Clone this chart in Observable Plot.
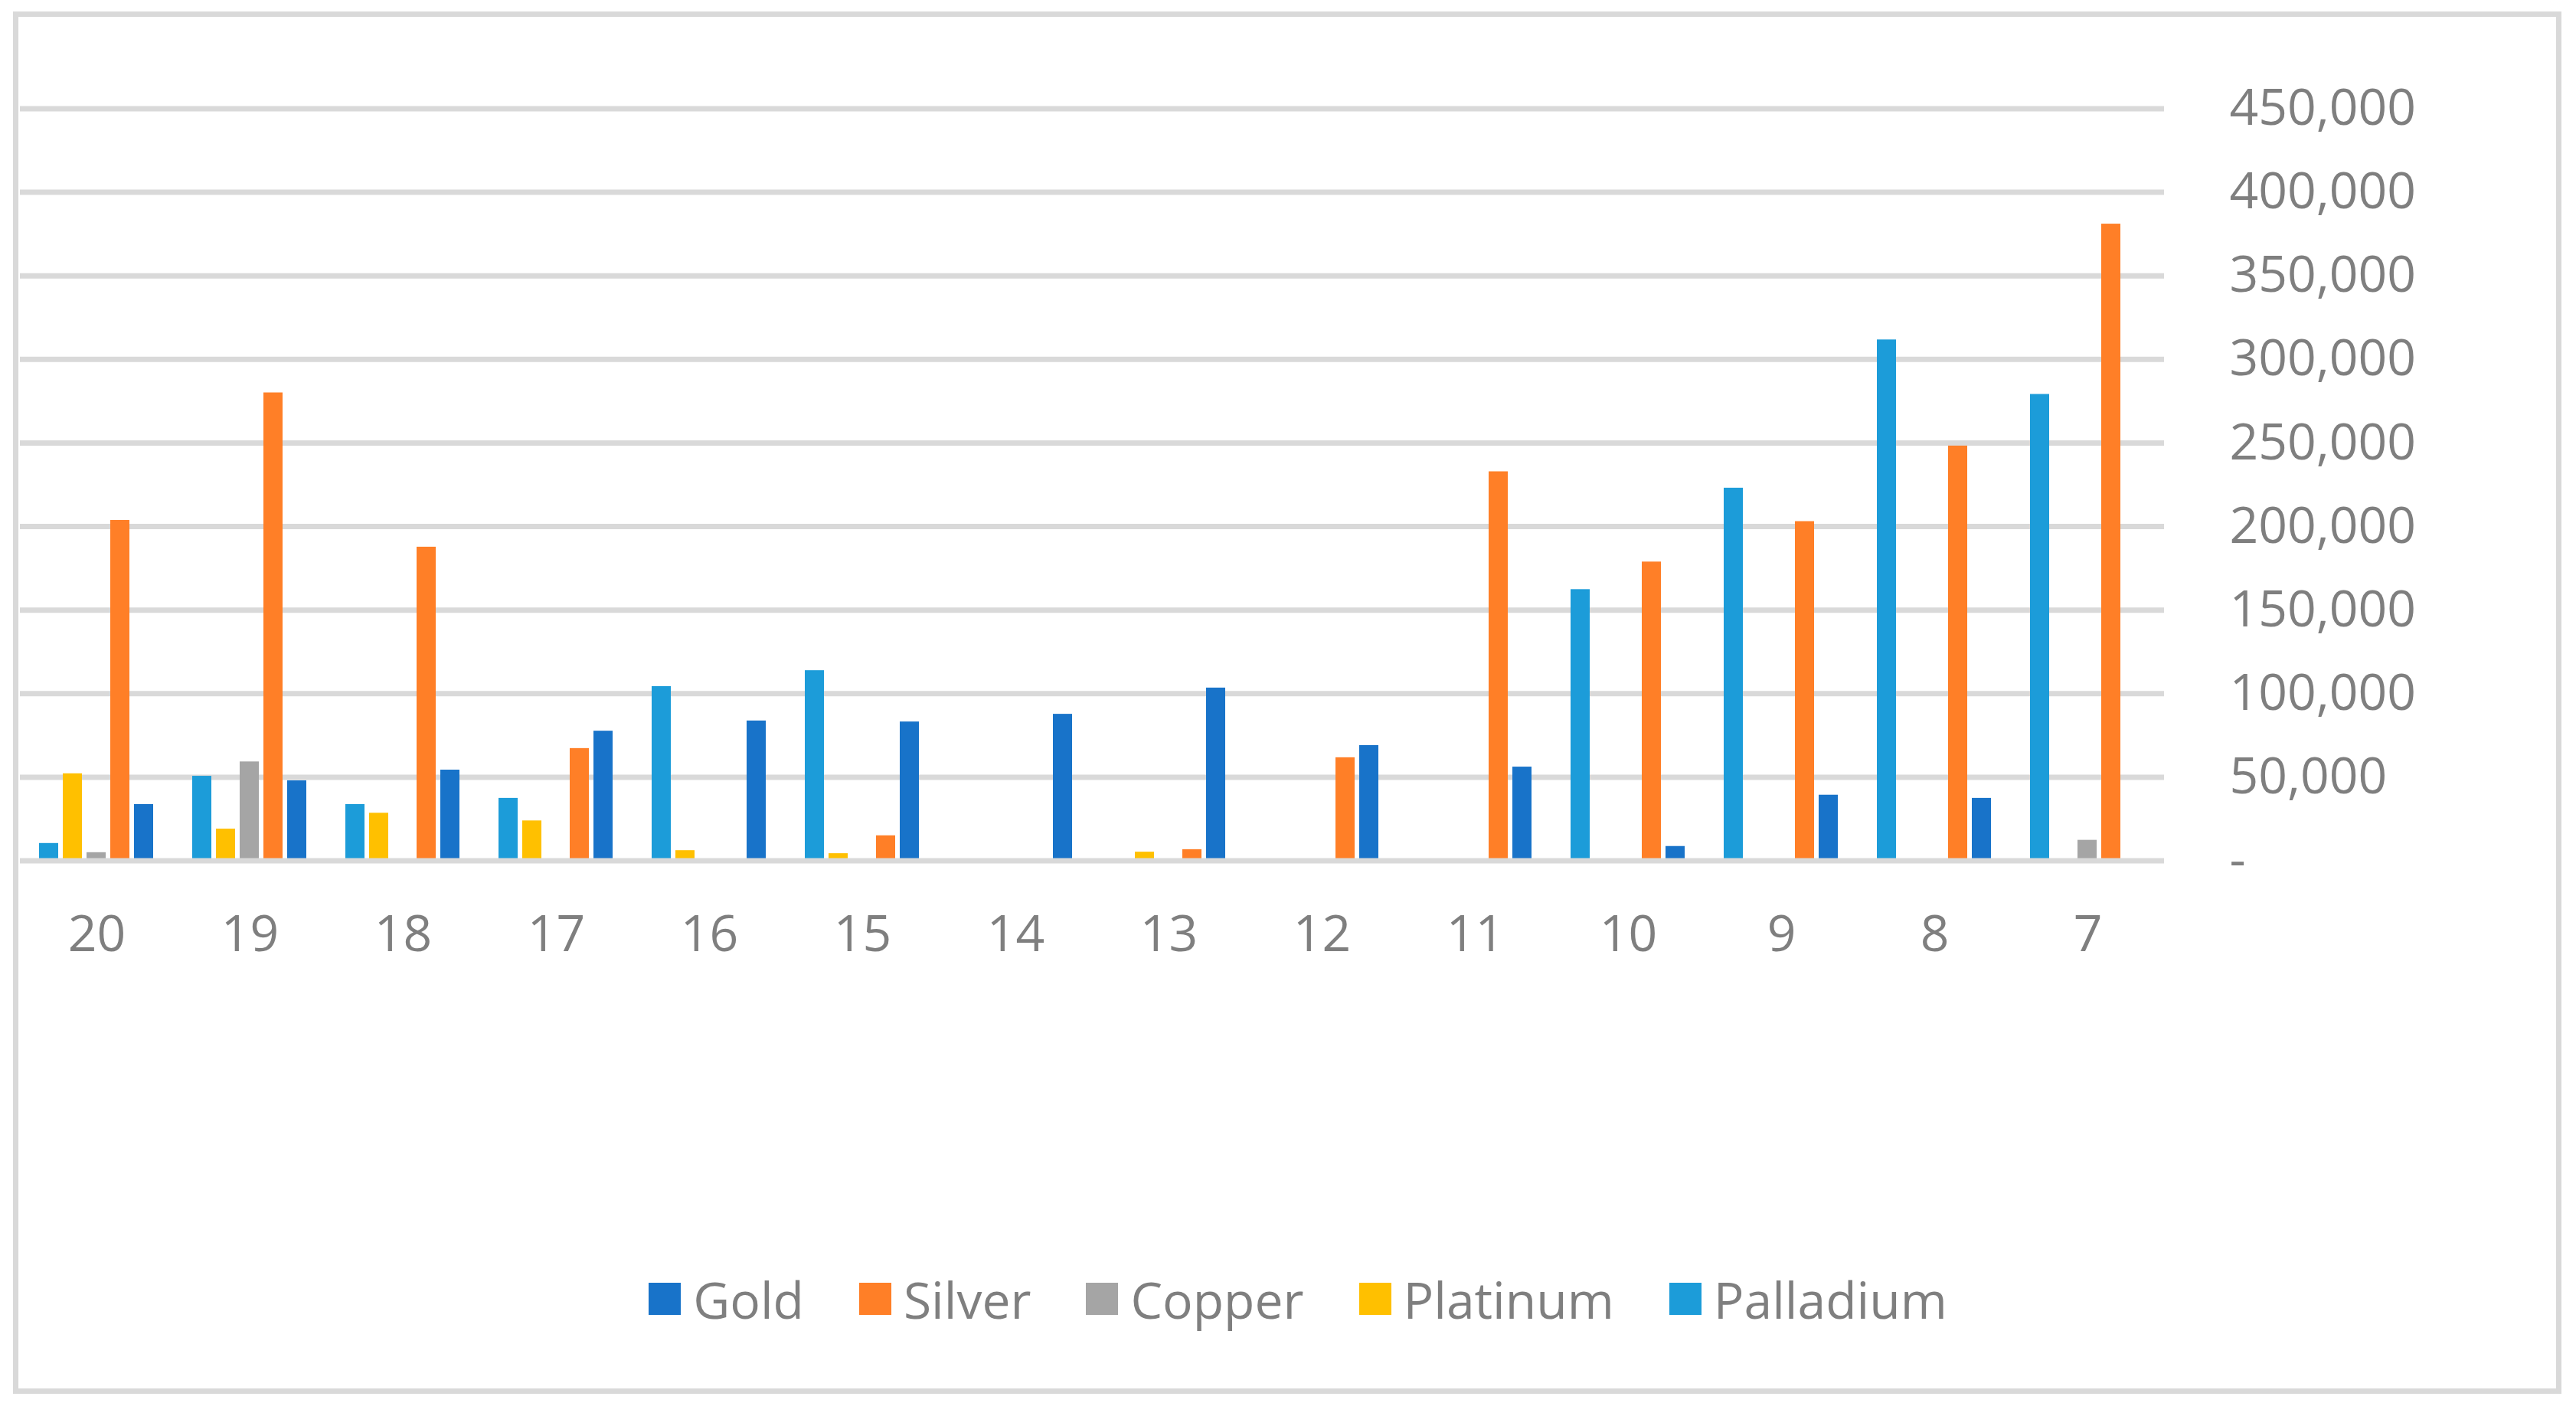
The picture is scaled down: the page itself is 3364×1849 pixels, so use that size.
<!DOCTYPE html>
<html>
<head>
<meta charset="utf-8">
<script src="https://cdn.jsdelivr.net/npm/d3@7"></script>
<script src="https://cdn.jsdelivr.net/npm/@observablehq/plot@0.6"></script>
<style>
  html, body { margin: 0; padding: 0; background: #ffffff; overflow: hidden; }
  #page { position: relative; width: 3364px; height: 1849px; }
  #frame { position: absolute; left: 17px; top: 15px; width: 3328px; height: 1805px; border: 7px solid #d9d9d9; box-sizing: border-box; }
  #chart { position: absolute; left: 0; top: 0; }
  #legend { position: absolute; left: 0; top: 1666px; width: 3390px; height: 60px; display: flex; justify-content: center; align-items: center;
            font-family: "Open Sans", sans-serif; font-size: 66px; color: #7f7f7f; }
  .item { display: flex; align-items: center; margin: 0 36px; }
  .sw { width: 42px; height: 42px; margin-right: 16px; }
</style>
</head>
<body>
<div id="page">
  <div id="frame"></div>
  <div id="chart"></div>
  <div id="legend"></div>
</div>
<script>
// Categories (x axis, left to right)
const categories = ["20","19","18","17","16","15","14","13","12","11","10","9","8","7"];
// Series (legend order) and colours
const seriesNames = ["Gold","Silver","Copper","Platinum","Palladium"];
const seriesColors = ["#1873c9","#ff7f27","#a5a5a5","#ffc000","#1c9cd9"];
// Order of bars inside each group (left to right)
const barOrder = ["Palladium","Platinum","Copper","Silver","Gold"];
// Values per series, one per category
const gold      = [33700, 47900, 54300, 77600, 83700, 83100, 87700, 103400, 69000, 56100, 8600, 39300, 37400, 0];
const silver    = [203700, 280000, 187700, 67200, 0, 15000, 0, 6700, 61700, 232800, 178800, 203000, 248200, 381000];
const copper    = [4900, 59200, 0, 0, 0, 0, 0, 0, 0, 0, 0, 0, 0, 12300];
const platinum  = [52100, 19000, 28500, 23900, 6100, 4300, 0, 5200, 0, 0, 0, 0, 0, 0];
const palladium = [10400, 50600, 33700, 37400, 104300, 113800, 0, 0, 0, 0, 162300, 223000, 311700, 279100];
// Y axis ticks
const yTicks = [0, 50000, 100000, 150000, 200000, 250000, 300000, 350000, 400000, 450000];

const valuesBySeries = {Gold: gold, Silver: silver, Copper: copper, Platinum: platinum, Palladium: palladium};
const data = [];
categories.forEach((c, i) => {
  barOrder.forEach(s => {
    const v = valuesBySeries[s][i];
    if (v > 0) data.push({category: c, series: s, value: v});
  });
});

const fmt = d3.format(",");
const chart = Plot.plot({
  width: 3364,
  height: 1320,
  marginLeft: 24,
  marginRight: 536,
  marginTop: 141.5,
  marginBottom: 196.5,
  style: {fontFamily: "'Open Sans', sans-serif", fontSize: "66px", color: "#7f7f7f", background: "transparent", overflow: "visible"},
  fx: {domain: categories, paddingInner: 0, paddingOuter: 0, label: null},
  x: {domain: barOrder, paddingInner: 0.19, paddingOuter: 0.82, axis: null},
  y: {domain: [0, 450000], axis: null},
  color: {domain: seriesNames, range: seriesColors},
  marks: [
    Plot.ruleY(yTicks.filter(d => d > 0), {stroke: "#d9d9d9", strokeWidth: 7}),
    Plot.barY(data, {fx: "category", x: "series", y: "value", fill: "series"}),
    Plot.ruleY([0], {stroke: "#d9d9d9", strokeWidth: 7}),
    Plot.axisFx({anchor: "bottom", tickSize: 0, tickPadding: 71, label: null, fontSize: 66, fill: "#7f7f7f"}),
    Plot.axisY({anchor: "right", ticks: yTicks, tickSize: 0, tickPadding: 85, label: null, fontSize: 66, fill: "#7f7f7f",
                tickFormat: d => d === 0 ? "-" : fmt(d)})
  ]
});
document.getElementById("chart").appendChild(chart);

const legend = document.getElementById("legend");
seriesNames.forEach((s, i) => {
  const item = document.createElement("div");
  item.className = "item";
  const sw = document.createElement("div");
  sw.className = "sw";
  sw.style.background = seriesColors[i];
  const label = document.createElement("span");
  label.textContent = s;
  item.appendChild(sw);
  item.appendChild(label);
  legend.appendChild(item);
});
</script>
</body>
</html>
